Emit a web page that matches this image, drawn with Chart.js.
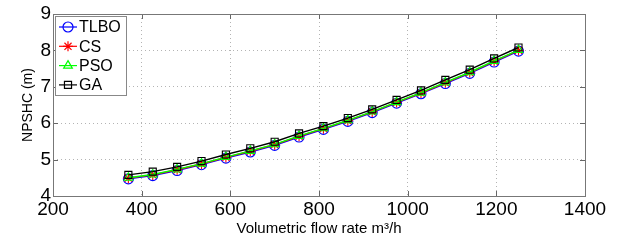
<!DOCTYPE html>
<html>
<head>
<meta charset="utf-8">
<script src="https://cdn.jsdelivr.net/npm/chart.js@4/dist/chart.umd.min.js"></script>
<style>
  html, body { margin: 0; padding: 0; background: #fff; }
  #wrap { width: 619px; height: 241px; position: relative; }
</style>
</head>
<body>
<div id="wrap"><canvas id="grafico"></canvas></div>
<script>
    // ---------- DADOS ----------
    const vazao = [370, 425, 480, 535, 590, 645, 700, 755, 810, 865, 920, 975, 1030, 1085, 1140, 1195, 1250];
    const tlbo = [4.47, 4.56, 4.70, 4.86, 5.04, 5.21, 5.39, 5.62, 5.83, 6.05, 6.29, 6.55, 6.81, 7.09, 7.37, 7.68, 7.98];
    const cs   = [4.49, 4.58, 4.72, 4.88, 5.06, 5.23, 5.41, 5.64, 5.85, 6.07, 6.31, 6.57, 6.83, 7.11, 7.39, 7.70, 8.00];
    const pso  = [4.50, 4.59, 4.73, 4.89, 5.07, 5.24, 5.42, 5.65, 5.86, 6.08, 6.32, 6.58, 6.84, 7.12, 7.40, 7.71, 8.01];
    const ga   = [4.58, 4.67, 4.80, 4.96, 5.14, 5.31, 5.49, 5.72, 5.92, 6.14, 6.38, 6.64, 6.90, 7.19, 7.47, 7.78, 8.08];
    const xTicks = [200, 400, 600, 800, 1000, 1200, 1400];
    const yTicks = [4, 5, 6, 7, 8, 9];

    const fonte = "Liberation Sans, Arial, Helvetica, sans-serif";
    const vazio = "rgba(0,0,0,0)";

    function pontos(ys) {
        return ys.map((y, i) => ({ x: vazao[i], y }));
    }

    const series = [
        { label: "TLBO", data: tlbo, cor: "#0000ff", estilo: "circle", ordem: 4 },
        { label: "CS",   data: cs,   cor: "#ff0000", estilo: "star", ordem: 3 },
        { label: "PSO",  data: pso,  cor: "#00ff00", estilo: "triangle", ordem: 2 },
        { label: "GA",   data: ga,   cor: "#000000", estilo: "rect", ordem: 1 }
    ];

    // ---------- LEGENDA DENTRO DO GRÁFICO (estilo MATLAB) ----------
    const legendaInterna = {
        id: "legendaInterna",
        afterDraw(chart) {
            const { ctx, chartArea } = chart;
            const x0 = chartArea.left + 2, y0 = chartArea.top + 2;
            const w = 71, h = 79, passo = 19.3;
            ctx.save();
            ctx.fillStyle = "#fff";
            ctx.strokeStyle = "#888";
            ctx.lineWidth = 1;
            ctx.fillRect(x0, y0, w, h);
            ctx.strokeRect(x0 + 0.5, y0 + 0.5, w, h);
            ctx.font = "16px " + fonte;
            ctx.textBaseline = "middle";
            series.forEach((s, i) => {
                const cy = y0 + 11 + i * passo;
                ctx.strokeStyle = s.cor;
                ctx.lineWidth = 1.2;
                ctx.beginPath();
                ctx.moveTo(x0 + 4, cy);
                ctx.lineTo(x0 + 22, cy);
                ctx.stroke();
                ctx.fillStyle = vazio;
                Chart.helpers.drawPoint(ctx, {
                    pointStyle: s.estilo, radius: 5, borderWidth: 1.2, rotation: 0
                }, x0 + 13, cy);
                ctx.fillStyle = "#000";
                ctx.fillText(s.label, x0 + 24, cy + 1);
            });
            ctx.restore();
        }
    };

    // ---------- MARCAS INTERNAS DOS EIXOS ----------
    const marcasInternas = {
        id: "marcasInternas",
        afterDatasetsDraw(chart) {
            const { ctx, chartArea, scales } = chart;
            ctx.save();
            ctx.strokeStyle = "#666";
            ctx.lineWidth = 1;
            ctx.beginPath();
            xTicks.forEach(v => {
                const px = Math.round(scales.x.getPixelForValue(v)) + 0.5;
                ctx.moveTo(px, chartArea.bottom); ctx.lineTo(px, chartArea.bottom - 5);
                ctx.moveTo(px, chartArea.top); ctx.lineTo(px, chartArea.top + 5);
            });
            yTicks.forEach(v => {
                const py = Math.round(scales.y.getPixelForValue(v)) + 0.5;
                ctx.moveTo(chartArea.left, py); ctx.lineTo(chartArea.left + 5, py);
                ctx.moveTo(chartArea.right, py); ctx.lineTo(chartArea.right - 5, py);
            });
            ctx.stroke();
            ctx.strokeStyle = "#777";
            ctx.strokeRect(chartArea.left + 0.5, chartArea.top + 0.5,
                chartArea.right - chartArea.left, chartArea.bottom - chartArea.top);
            ctx.restore();
        }
    };

    // ---------- GRÁFICO ----------
    function renderizarGrafico() {
        const ctx = document.getElementById("grafico").getContext("2d");
        new Chart(ctx, {
            type: "line",
            data: {
                datasets: series.map(s => ({
                    label: s.label,
                    data: pontos(s.data),
                    borderColor: s.cor,
                    backgroundColor: vazio,
                    borderWidth: 1.4,
                    pointStyle: s.estilo,
                    pointRadius: 5,
                    pointBorderColor: s.cor,
                    pointBackgroundColor: vazio,
                    pointBorderWidth: 1.1,
                    tension: 0,
                    order: s.ordem
                }))
            },
            options: {
                responsive: true,
                maintainAspectRatio: false,
                animation: false,
                layout: { padding: { left: 20, right: 34, top: 14, bottom: 0 } },
                plugins: {
                    legend: { display: false },
                    tooltip: { enabled: false }
                },
                scales: {
                    x: {
                        type: "linear",
                        min: 200, max: 1400,
                        afterBuildTicks: s => { s.ticks = xTicks.map(v => ({ value: v })); },
                        afterFit: s => { s.height = 45; },
                        grid: { color: "#b4b4b4", drawTicks: false },
                        border: { display: false, dash: [1, 3] },
                        ticks: {
                            color: "#000", font: { family: fonte, size: 19 }, padding: 2, maxRotation: 0,
                            callback: v => String(v)
                        },
                        title: {
                            display: true,
                            text: "Volumetric flow rate m³/h",
                            color: "#000",
                            font: { family: fonte, size: 15 },
                            padding: { top: 0, bottom: 3 }
                        }
                    },
                    y: {
                        min: 4, max: 9,
                        afterBuildTicks: s => { s.ticks = yTicks.map(v => ({ value: v })); },
                        afterFit: s => { s.width = 33; },
                        grid: { color: "#b4b4b4", drawTicks: false },
                        border: { display: false, dash: [1, 3] },
                        ticks: {
                            color: "#000", font: { family: fonte, size: 19 }, padding: 2,
                            callback: v => String(v)
                        },
                        title: {
                            display: true,
                            text: "NPSHC (m)",
                            color: "#000",
                            font: { family: fonte, size: 14 },
                            padding: { top: 0, bottom: 0 }
                        }
                    }
                }
            },
            plugins: [marcasInternas, legendaInterna]
        });
    }

    renderizarGrafico();
</script>
</body>
</html>
